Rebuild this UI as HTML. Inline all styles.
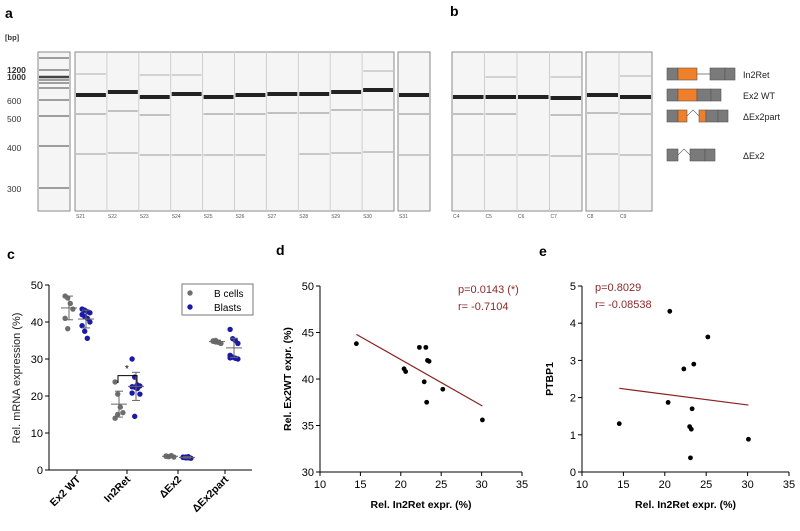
<!DOCTYPE html>
<html><head><meta charset="utf-8"><style>
body{margin:0;background:#fff;width:800px;height:531px;overflow:hidden;font-family:"Liberation Sans",Arial,sans-serif}
svg{position:absolute;left:0;top:0}
</style></head><body>
<svg id="fig" width="800" height="531" viewBox="0 0 800 531" xmlns="http://www.w3.org/2000/svg" font-family="Liberation Sans, Arial, sans-serif">
<g id="gels"></g>
<g id="diag">
 <rect x="667" y="68" width="11" height="12" fill="#7a7a7a" stroke="#555" stroke-width="0.6"/>
 <rect x="678" y="68" width="19" height="12" fill="#f07f2a" stroke="#555" stroke-width="0.6"/>
 <line x1="697" y1="74" x2="710" y2="74" stroke="#666" stroke-width="0.8"/>
 <rect x="710" y="68" width="15" height="12" fill="#7a7a7a" stroke="#555" stroke-width="0.6"/>
 <rect x="725" y="68" width="10" height="12" fill="#7a7a7a" stroke="#555" stroke-width="0.6"/>
 <text x="743" y="78" font-size="9" fill="#222">In2Ret</text>
 <rect x="667" y="89" width="11" height="12" fill="#7a7a7a" stroke="#555" stroke-width="0.6"/>
 <rect x="678" y="89" width="19" height="12" fill="#f07f2a" stroke="#555" stroke-width="0.6"/>
 <rect x="697" y="89" width="14" height="12" fill="#7a7a7a" stroke="#555" stroke-width="0.6"/>
 <rect x="711" y="89" width="10" height="12" fill="#7a7a7a" stroke="#555" stroke-width="0.6"/>
 <text x="743" y="99" font-size="9" fill="#222">Ex2 WT</text>
 <rect x="667" y="110" width="11" height="12" fill="#7a7a7a" stroke="#555" stroke-width="0.6"/>
 <rect x="678" y="110" width="9" height="12" fill="#f07f2a" stroke="#555" stroke-width="0.6"/>
 <polyline points="687,116 693,110 699,116" fill="none" stroke="#666" stroke-width="0.7"/>
 <rect x="699" y="110" width="7" height="12" fill="#f07f2a" stroke="#555" stroke-width="0.6"/>
 <rect x="706" y="110" width="12" height="12" fill="#7a7a7a" stroke="#555" stroke-width="0.6"/>
 <rect x="718" y="110" width="10" height="12" fill="#7a7a7a" stroke="#555" stroke-width="0.6"/>
 <text x="743" y="120" font-size="9" fill="#222">ΔEx2part</text>
 <rect x="667" y="149" width="11" height="12" fill="#7a7a7a" stroke="#555" stroke-width="0.6"/>
 <polyline points="678,155 684,149 690,155" fill="none" stroke="#666" stroke-width="0.7"/>
 <rect x="690" y="149" width="15" height="12" fill="#7a7a7a" stroke="#555" stroke-width="0.6"/>
 <rect x="705" y="149" width="10" height="12" fill="#7a7a7a" stroke="#555" stroke-width="0.6"/>
 <text x="743" y="159" font-size="9" fill="#222">ΔEx2</text>
</g>
<text x="5" y="18" font-size="14" font-weight="bold">a</text>
<text x="450" y="16" font-size="14" font-weight="bold">b</text>
<text x="5" y="40" font-size="7.5" font-weight="bold" fill="#333">[bp]</text>
<text x="7" y="259" font-size="14" font-weight="bold">c</text>
<text x="276" y="255" font-size="14" font-weight="bold">d</text>
<text x="539" y="256" font-size="14" font-weight="bold">e</text>
<g id="chartC"></g>
<g id="chartD"></g>
<g id="chartE"></g>
</svg>
<script>
// ---- chart c data ----
const cCategories = ["Ex2 WT","In2Ret","ΔEx2","ΔEx2part"];
const cBcells = [[47,46.5,45,43.5,41,38.2],[23.8,20.5,17,15.5,14,15],[3.8,3.6,3.9,3.5,3.7],[34.8,35,34.5,34.2,34.9,34.6]];
const cBlasts = [[43.5,43.2,42.8,42.5,42,41.5,41,40,39,37.5,35.6],[30,25.1,23,22.7,22.5,22.4,22,20.5,20.8,14.5],[3.5,3.3,3.6,3.2,3.4,3.5,3.3],[38,35.5,35,34.2,31,30.5,30.2,30,30.3]];
const cBmean=[43.8,17.8,3.7,34.7], cBsd=[3.2,3.5,0.3,0.4];
const cLmean=[40.8,22.6,3.4,33], cLsd=[2.4,3.8,0.2,2.6];
const cYTicks=[0,10,20,30,40,50];
// ---- chart d data ----
const dX=[14.5,20.4,20.6,22.3,23.1,23.3,23.5,22.9,23.2,25.2,30.1];
const dY=[43.8,41.1,40.8,43.4,43.4,42,41.9,39.7,37.5,38.9,35.6];
const dFit=[[14.5,44.8],[30.1,37.1]];
const dXTicks=[10,15,20,25,30,35], dYTicks=[30,35,40,45,50];
// ---- chart e data ----
const eX=[14.5,20.4,20.6,22.3,23.5,25.2,23.3,23.0,23.2,23.1,30.1];
const eY=[1.3,1.87,4.32,2.77,2.9,3.63,1.7,1.22,1.15,0.38,0.88];
const eFit=[[14.5,2.25],[30.1,1.8]];
const eXTicks=[10,15,20,25,30,35], eYTicks=[0,1,2,3,4,5];
// ---- gel data ----
const mainLanes=["S21","S22","S23","S24","S25","S26","S27","S28","S29","S30"];
const mainBandY=[95,92,97,94,97,95,94,94,92,90];
const upperBandY=[74,0,75,75,0,0,0,0,0,71];
const midBandY=[114,111,115,0,114,114,113,113,110,110];
const lowBandY=[154,153,155,155,155,155,0,154,153,152];
const ladderY=[58,70,77,80,83,88,100,116,146,188];
const ladderLabels=["1200","1000","600","500","400","300"];
const ladderLabelY=[73,80,104,122,151,192];

const NS="http://www.w3.org/2000/svg";
function mk(parent,tag,attrs){const e=document.createElementNS(NS,tag);for(const k in attrs)e.setAttribute(k,attrs[k]);parent.appendChild(e);return e;}
function txt(parent,x,y,s,attrs){const e=mk(parent,"text",Object.assign({x:x,y:y},attrs||{}));e.textContent=s;return e;}

// ---- gels ----
const G=document.getElementById("gels");
function gelBox(x,w,name){const r=mk(G,"rect",{x:x,y:52,width:w,height:159,fill:"#f5f5f5",stroke:"#8a8a8a","stroke-width":1});

}
function band(x,w,y,col,h){if(!y)return;mk(G,"rect",{x:x+1,y:y-h/2,width:w-2,height:h,fill:col});}
gelBox(38,32,"ladder-lane");
ladderY.forEach((y,i)=>band(38,32,y,i==2?"#444":"#888",i==2?2.5:1.6));
ladderLabels.forEach((s,i)=>{const t=txt(G,7,ladderLabelY[i],s,{"font-size":"8.5",fill:"#333","font-weight":i<2?"bold":"normal"});

});
function lanes(x0,names,bands,boxName,lw){
 gelBox(x0,names.length*lw,boxName);
 names.forEach((n,i)=>{const x=x0+i*lw;
  if(i>0)mk(G,"line",{x1:x,y1:52,x2:x,y2:211,stroke:"#cfcfcf","stroke-width":1});
  band(x,lw,bands.main[i],"#222",4);band(x,lw,bands.up[i],"#bbb",1.2);
  band(x,lw,bands.mid[i],"#aaa",1.4);band(x,lw,bands.low[i],"#b5b5b5",1.4);
  const t=txt(G,x+1,218,n,{"font-size":"5",fill:"#555"});
  
  });
}
lanes(75,mainLanes,{main:mainBandY,up:upperBandY,mid:midBandY,low:lowBandY},"gel-a-main",31.9);
lanes(398,["S31"],{main:[95],up:[0],mid:[114],low:[155]},"gel-a-s31",32);
lanes(452,["C4","C5","C6","C7"],{main:[97,97,97,98],up:[0,77,0,77],mid:[114,114,0,115],low:[155,155,155,156]},"gel-b-left",32.5);
lanes(586,["C8","C9"],{main:[95,97],up:[0,76],mid:[113,114],low:[154,155]},"gel-b-right",33);

// ---- chart c ----
const C=document.getElementById("chartC");
const cx0=49,cyB=470,cyT=285;
const cy=v=>cyB-(v-0)/(50-0)*(cyB-cyT);
const cCenter=[77,127,178,225];
mk(C,"line",{x1:cx0,y1:cyT,x2:cx0,y2:cyB,stroke:"#000","stroke-width":1});
mk(C,"line",{x1:cx0,y1:cyB,x2:252,y2:cyB,stroke:"#000","stroke-width":1});
cYTicks.forEach(v=>{mk(C,"line",{x1:cx0-4,y1:cy(v),x2:cx0,y2:cy(v),stroke:"#000"});
 const t=txt(C,cx0-6,cy(v)+4,String(v),{"font-size":"11","text-anchor":"end"});
 
 });
cCategories.forEach((s,i)=>{const x=cCenter[i];
 mk(C,"line",{x1:x,y1:cyB,x2:x,y2:cyB+4,stroke:"#000"});
 const t=txt(C,x+4,cyB+10,s,{"font-size":"10.5","font-weight":"bold","text-anchor":"end",transform:`rotate(-45 ${x+4} ${cyB+10})`});
 
 });
const cyl=txt(C,0,0,"Rel. mRNA expression (%)",{"font-size":"11",fill:"#222","text-anchor":"middle",transform:"translate(20,378) rotate(-90)"});


function group(vals,cx,col,mean,sd,name){
 vals.forEach((v,j)=>{const off=((j%4)-1.5)*2.6;const d=mk(C,"circle",{cx:cx+off,cy:cy(v),r:2.7,fill:col});
  
  });
 mk(C,"line",{x1:cx-8,y1:cy(mean),x2:cx+8,y2:cy(mean),stroke:"#666","stroke-width":1});
 mk(C,"line",{x1:cx,y1:cy(mean-sd),x2:cx,y2:cy(mean+sd),stroke:"#666","stroke-width":1});
 [mean-sd,mean+sd].forEach(v=>mk(C,"line",{x1:cx-4,y1:cy(v),x2:cx+4,y2:cy(v),stroke:"#666"}));
}
cCategories.forEach((s,i)=>{group(cBcells[i],cCenter[i]-8,"#6e6e6e",cBmean[i],cBsd[i],"bcells-point");group(cBlasts[i],cCenter[i]+9,"#1a1aa6",cLmean[i],cLsd[i],"blasts-point");});
mk(C,"polyline",{points:`118,${cy(23.5)} 118,${cy(25.5)} 137,${cy(25.5)} 137,${cy(23.5)}`,fill:"none",stroke:"#000"});
txt(C,127,cy(26.5),"*",{"font-size":"10","text-anchor":"middle"});
const lg=mk(C,"g",{});
mk(lg,"rect",{x:182,y:284,width:71,height:31,fill:"#fff",stroke:"#777"});
mk(lg,"circle",{cx:190,cy:293,r:2.7,fill:"#6e6e6e"});mk(lg,"circle",{cx:190,cy:307,r:2.7,fill:"#1a1aa6"});
txt(lg,214,297,"B cells",{"font-size":"10"});txt(lg,214,311,"Blasts",{"font-size":"10"});

// ---- scatter charts ----
function scatter(gid,X,Y,fit,xt,yt,ax,info,ytitle,pre){
 const g=document.getElementById(gid);
 const sx=v=>ax.x0+(v-xt[0])/(xt[xt.length-1]-xt[0])*(ax.x1-ax.x0);
 const sy=v=>ax.y0-(v-yt[0])/(yt[yt.length-1]-yt[0])*(ax.y0-ax.y1);
 mk(g,"line",{x1:ax.x0,y1:ax.y1,x2:ax.x0,y2:ax.y0,stroke:"#000"});
 mk(g,"line",{x1:ax.x0,y1:ax.y0,x2:ax.x1,y2:ax.y0,stroke:"#000"});
 xt.forEach(v=>{mk(g,"line",{x1:sx(v),y1:ax.y0,x2:sx(v),y2:ax.y0+4,stroke:"#000"});
  const t=txt(g,sx(v),ax.y0+16,String(v),{"font-size":"11","text-anchor":"middle"});
  });
 yt.forEach(v=>{mk(g,"line",{x1:ax.x0-4,y1:sy(v),x2:ax.x0,y2:sy(v),stroke:"#000"});
  const t=txt(g,ax.x0-6,sy(v)+4,String(v),{"font-size":"11","text-anchor":"end"});
  });
 const f=mk(g,"line",{x1:sx(fit[0][0]),y1:sy(fit[0][1]),x2:sx(fit[1][0]),y2:sy(fit[1][1]),stroke:"#8b2020","stroke-width":1.2});
 
 X.forEach((v,i)=>{const c=mk(g,"circle",{cx:sx(v),cy:sy(Y[i]),r:2.4,fill:"#000"});
  });
 info.forEach((s,i)=>{const t=txt(g,ax.tx,ax.ty+i*17,s,{"font-size":"11",fill:"#8b2a2a"});
  });
 const xt2=txt(g,(ax.x0+ax.x1)/2,508,"Rel. In2Ret expr. (%)",{"font-size":"10.5","font-weight":"bold","text-anchor":"middle"});
 
 const yt2=txt(g,0,0,ytitle,{"font-size":"10.5","font-weight":"bold","text-anchor":"middle",transform:`translate(${ax.x0-29},${(ax.y0+ax.y1)/2}) rotate(-90)`});
 
}
scatter("chartD",dX,dY,dFit,dXTicks,dYTicks,{x0:320,x1:522,y0:472,y1:286,tx:458,ty:293},["p=0.0143 (*)","r= -0.7104"],"Rel. Ex2WT expr. (%)","d");
scatter("chartE",eX,eY,eFit,eXTicks,eYTicks,{x0:582,x1:789,y0:472,y1:286,tx:595,ty:291},["p=0.8029","r= -0.08538"],"PTBP1","e");
</script>
</body></html>
